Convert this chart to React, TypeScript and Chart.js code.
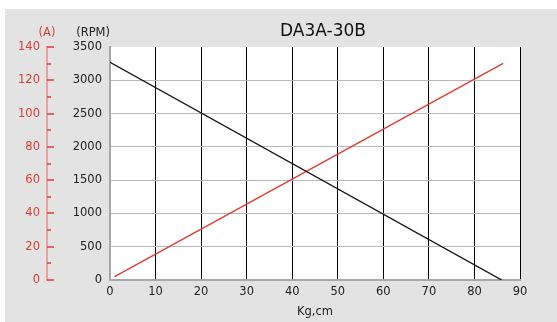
import React, { useEffect, useRef } from 'react';
import { Chart, registerables } from 'chart.js';

Chart.register(...registerables);

const TITLE = 'DA3A-30B';
const X_TITLE = 'Kg,cm';
const RPM_TITLE = '(RPM)';
const AMP_TITLE = '(A)';

const xRange = [0, 90];
const xStep = 10;
const rpmRange = [0, 3500];
const rpmStep = 500;
const ampRange = [0, 140];
const ampStep = 10;
const ampLabelStep = 20;

// speed (RPM) vs torque (Kg.cm)
const rpmX = [0, 86];
const rpmY = [3270, 0];
// current (A) vs torque (Kg.cm)
const ampX = [1, 86.3];
const ampY = [2, 130.2];

const RED = 'rgb(222,62,52)';
const FONT = 'DejaVu Sans';
const TRANSPARENT = 'rgba(0,0,0,0)';

const framePlugin = {
  id: 'frame',
  beforeDraw(chart: any) {
    const { ctx, chartArea: a, width, height } = chart;
    ctx.save();
    ctx.fillStyle = '#ffffff';
    ctx.fillRect(0, 0, width, height);
    ctx.fillStyle = '#e3e3e3';
    ctx.fillRect(5, 9, width - 5, height - 9);
    ctx.fillStyle = '#ffffff';
    ctx.fillRect(a.left, a.top, a.right - a.left, a.bottom - a.top);
    ctx.restore();
  },
  afterDraw(chart: any) {
    const { ctx, chartArea: a, scales } = chart;
    const yA = scales.yA;
    const y = scales.y;
    ctx.save();
    ctx.strokeStyle = RED;
    ctx.lineWidth = 1.5;
    yA.ticks.forEach((t: any) => {
      const py = Math.round(yA.getPixelForValue(t.value));
      const len = t.value % ampLabelStep === 0 ? 7 : 4;
      ctx.beginPath();
      ctx.moveTo(yA.right, py);
      ctx.lineTo(yA.right + len, py);
      ctx.stroke();
    });
    ctx.font = `11.5px "${FONT}"`;
    ctx.textBaseline = 'middle';
    ctx.fillStyle = RED;
    ctx.textAlign = 'center';
    ctx.fillText(AMP_TITLE, yA.right, 33);
    ctx.fillStyle = '#222';
    ctx.textAlign = 'right';
    ctx.fillText(RPM_TITLE, y.right, 33);
    ctx.font = `17px "${FONT}"`;
    ctx.textAlign = 'center';
    ctx.fillStyle = '#111';
    ctx.fillText(TITLE, (a.left + a.right) / 2 + 8, 32);
    ctx.restore();
  },
};

export default function App() {
  const ref = useRef<HTMLCanvasElement | null>(null);

  useEffect(() => {
    if (!ref.current) return;
    const tickFont = { family: FONT, size: 11.5 };
    const chart = new Chart(ref.current, {
      type: 'line',
      data: {
        datasets: [
          {
            label: 'RPM',
            data: rpmX.map((x, i) => ({ x, y: rpmY[i] })),
            yAxisID: 'y',
            borderColor: '#111',
            borderWidth: 1.4,
            pointRadius: 0,
            fill: false,
            tension: 0,
          },
          {
            label: 'A',
            data: ampX.map((x, i) => ({ x, y: ampY[i] })),
            yAxisID: 'yA',
            borderColor: RED,
            borderWidth: 1.4,
            pointRadius: 0,
            fill: false,
            tension: 0,
          },
        ],
      },
      options: {
        animation: false,
        responsive: false,
        devicePixelRatio: 1,
        layout: { padding: { top: 47, right: 37, bottom: 0, left: 0 } },
        plugins: {
          legend: { display: false },
          tooltip: { enabled: false },
          title: { display: false },
        },
        scales: {
          x: {
            type: 'linear',
            position: 'bottom',
            min: xRange[0],
            max: xRange[1],
            ticks: {
              stepSize: xStep,
              padding: 5,
              color: '#222',
              font: tickFont,
              maxRotation: 0,
              autoSkip: false,
              callback: (v: any) => String(v),
            },
            grid: {
              color: (c: any) => (c.tick && c.tick.value === xRange[0] ? TRANSPARENT : '#000'),
              lineWidth: 1,
              drawTicks: false,
            },
            border: { display: true, color: '#a8a8a8', width: 2 },
            title: {
              display: true,
              text: X_TITLE,
              color: '#222',
              font: tickFont,
              padding: { top: 0, bottom: 3 },
            },
            afterFit: (s: any) => {
              s.height = 42;
            },
          },
          y: {
            type: 'linear',
            position: 'left',
            weight: 0,
            min: rpmRange[0],
            max: rpmRange[1],
            ticks: {
              stepSize: rpmStep,
              padding: 8,
              color: '#222',
              font: tickFont,
              autoSkip: false,
              callback: (v: any) => String(v),
            },
            grid: {
              color: (c: any) =>
                c.tick && (c.tick.value === rpmRange[0] || c.tick.value === rpmRange[1])
                  ? TRANSPARENT
                  : '#b8b8b8',
              lineWidth: 1,
              drawTicks: false,
            },
            border: { display: true, color: '#a8a8a8', width: 2 },
            afterFit: (s: any) => {
              s.width = 63;
            },
          },
          yA: {
            type: 'linear',
            position: 'left',
            weight: 1,
            min: ampRange[0],
            max: ampRange[1],
            ticks: {
              stepSize: ampStep,
              padding: 7,
              color: RED,
              font: tickFont,
              autoSkip: false,
              callback: (v: any) => (Number(v) % ampLabelStep === 0 ? String(v) : ''),
            },
            grid: { drawOnChartArea: false, drawTicks: false },
            border: { display: true, color: 'rgb(236,160,160)', width: 2 },
            afterFit: (s: any) => {
              s.width = 47;
            },
          },
        },
      },
      plugins: [framePlugin],
    } as any);
    return () => chart.destroy();
  }, []);

  return (
    <div style={{ position: 'absolute', left: 0, top: 0, width: 557, height: 322 }}>
      <canvas ref={ref} width={557} height={322} style={{ display: 'block' }} />
    </div>
  );
}
